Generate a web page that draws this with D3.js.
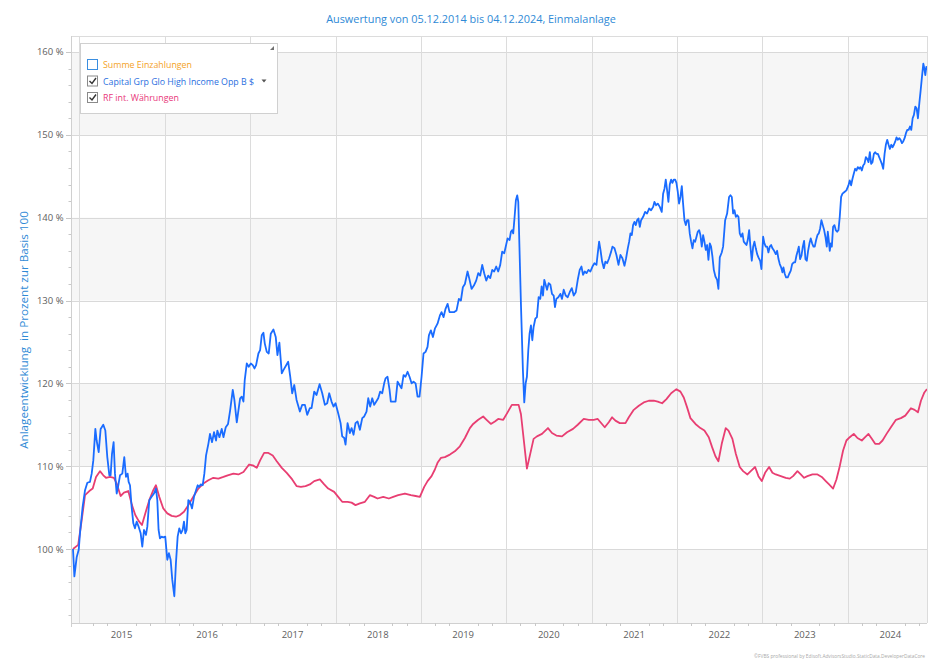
<!DOCTYPE html>
<html><head><meta charset="utf-8">
<script src="https://cdn.jsdelivr.net/npm/d3@7"></script>
<style>html,body{margin:0;padding:0;background:#fff;}svg{display:block;font-family:"Open Sans","Noto Sans",sans-serif;}</style>
</head><body>
<svg id="chart" width="940" height="665"></svg>
<script>
// ---------- DATA (decimal years, percent of base 100) ----------
const titleText = "Auswertung von 05.12.2014 bis 04.12.2024, Einmalanlage";
const yAxisTitle = "Anlageentwicklung  in Prozent zur Basis 100";
const legendLabels = ["Summe Einzahlungen", "Capital Grp Glo High Income Opp B $", "RF int. Währungen"];
const yTickValues = [100, 110, 120, 130, 140, 150, 160];
const yearLabels = ["2015","2016","2017","2018","2019","2020","2021","2022","2023","2024"];
const footerText = "©FVBS professional by Edisoft.AdvisorsStudio.StaticData.DeveloperDataCore";

const blueYears = [
2014.926,2014.942,2014.969,2014.993,2015.008,2015.039,2015.067,2015.094,2015.125,2015.145,2015.164,2015.188,2015.203,2015.227,2015.250,2015.281,2015.305,2015.328,2015.352,2015.367,2015.383,2015.402,2015.418,2015.438,2015.457,2015.477,2015.504,2015.527,2015.547,2015.566,2015.578,2015.594,2015.613,2015.633,2015.652,2015.672,2015.695,2015.719,2015.738,2015.758,2015.781,2015.797,2015.820,2015.847,2015.875,2015.898,2015.914,2015.929,2015.945,2015.965,2015.984,
2016.007,2016.031,2016.050,2016.070,2016.089,2016.113,2016.132,2016.152,2016.171,2016.191,2016.210,2016.226,2016.242,2016.257,2016.277,2016.296,2016.320,2016.343,2016.367,2016.386,2016.402,2016.421,2016.445,2016.464,2016.484,2016.511,2016.530,2016.554,2016.577,2016.601,2016.616,2016.640,2016.667,2016.687,2016.714,2016.741,2016.765,2016.796,2016.815,2016.843,2016.862,2016.882,2016.901,2016.921,2016.936,2016.960,2016.983,
2017.007,2017.030,2017.050,2017.069,2017.096,2017.116,2017.135,2017.155,2017.171,2017.194,2017.217,2017.241,2017.272,2017.299,2017.319,2017.342,2017.370,2017.389,2017.445,2017.469,2017.492,2017.516,2017.543,2017.582,2017.609,2017.641,2017.668,2017.699,2017.719,2017.750,2017.777,2017.813,2017.844,2017.875,2017.902,2017.926,2017.953,2017.977,
2018.000,2018.031,2018.059,2018.078,2018.102,2018.117,2018.141,2018.168,2018.188,2018.211,2018.234,2018.258,2018.285,2018.313,2018.336,2018.363,2018.383,2018.406,2018.430,2018.453,2018.477,2018.500,2018.523,2018.547,2018.570,2018.586,2018.609,2018.633,2018.648,2018.676,2018.703,2018.727,2018.750,2018.773,2018.797,2018.820,2018.844,2018.867,2018.891,2018.914,2018.938,2018.961,2018.984,
2019.008,2019.031,2019.055,2019.078,2019.094,2019.117,2019.141,2019.164,2019.195,2019.223,2019.242,2019.266,2019.289,2019.313,2019.336,2019.359,2019.391,2019.418,2019.445,2019.469,2019.492,2019.516,2019.547,2019.566,2019.594,2019.621,2019.648,2019.672,2019.695,2019.719,2019.742,2019.766,2019.789,2019.813,2019.836,2019.859,2019.883,2019.906,2019.930,2019.953,2019.977,
2020.016,2020.039,2020.055,2020.070,2020.082,2020.098,2020.113,2020.129,2020.141,2020.172,2020.195,2020.211,2020.227,2020.242,2020.258,2020.273,2020.289,2020.305,2020.320,2020.340,2020.359,2020.379,2020.398,2020.414,2020.430,2020.445,2020.461,2020.477,2020.496,2020.516,2020.535,2020.555,2020.570,2020.586,2020.609,2020.633,2020.652,2020.672,2020.695,2020.719,2020.742,2020.766,2020.789,2020.813,2020.836,2020.859,2020.879,2020.898,2020.918,2020.938,2020.961,2020.984,
2021.008,2021.031,2021.055,2021.070,2021.086,2021.102,2021.121,2021.141,2021.160,2021.180,2021.203,2021.227,2021.242,2021.266,2021.289,2021.313,2021.336,2021.359,2021.383,2021.402,2021.422,2021.438,2021.453,2021.469,2021.484,2021.500,2021.516,2021.531,2021.547,2021.563,2021.578,2021.602,2021.625,2021.648,2021.672,2021.695,2021.719,2021.734,2021.754,2021.773,2021.797,2021.820,2021.836,2021.852,2021.867,2021.883,2021.898,2021.914,2021.930,2021.945,2021.961,2021.977,2021.992,
2022.008,2022.023,2022.039,2022.055,2022.070,2022.086,2022.102,2022.117,2022.133,2022.148,2022.164,2022.180,2022.195,2022.211,2022.227,2022.242,2022.258,2022.273,2022.289,2022.305,2022.320,2022.336,2022.352,2022.367,2022.383,2022.398,2022.414,2022.430,2022.449,2022.469,2022.484,2022.500,2022.523,2022.539,2022.563,2022.586,2022.609,2022.625,2022.641,2022.656,2022.672,2022.688,2022.703,2022.719,2022.734,2022.750,2022.766,2022.781,2022.797,2022.813,2022.828,2022.844,2022.859,2022.875,2022.891,2022.906,2022.922,2022.938,2022.953,2022.973,2022.988,
2023.008,2023.023,2023.039,2023.055,2023.070,2023.086,2023.102,2023.117,2023.137,2023.156,2023.172,2023.188,2023.203,2023.219,2023.234,2023.246,2023.262,2023.277,2023.297,2023.313,2023.332,2023.348,2023.367,2023.383,2023.398,2023.414,2023.426,2023.441,2023.457,2023.473,2023.488,2023.504,2023.520,2023.535,2023.551,2023.566,2023.582,2023.598,2023.613,2023.629,2023.645,2023.660,2023.676,2023.691,2023.707,2023.723,2023.738,2023.754,2023.766,2023.777,2023.789,2023.801,2023.813,2023.828,2023.844,2023.859,2023.875,2023.891,2023.906,2023.922,2023.938,2023.961,2023.984,
2024.008,2024.023,2024.039,2024.055,2024.070,2024.086,2024.102,2024.117,2024.133,2024.148,2024.164,2024.180,2024.195,2024.211,2024.227,2024.242,2024.258,2024.273,2024.289,2024.305,2024.320,2024.336,2024.352,2024.367,2024.383,2024.398,2024.414,2024.430,2024.445,2024.461,2024.477,2024.492,2024.508,2024.523,2024.539,2024.555,2024.570,2024.586,2024.602,2024.617,2024.633,2024.648,2024.664,2024.680,2024.695,2024.711,2024.727,2024.742,2024.758,2024.773,2024.789,2024.805,2024.820,2024.836,2024.852,2024.867,2024.883,2024.895,2024.906,2024.918,2024.926
];
const blueValues = [
100.0,96.7,99.0,99.9,101.9,105.1,107.1,108.0,108.1,109.1,110.7,114.5,113.1,111.7,114.5,115.0,114.3,111.1,108.9,108.9,111.5,112.9,109.1,106.7,107.7,108.9,109.1,111.1,108.7,109.1,108.1,107.7,105.1,103.1,102.5,103.3,102.7,101.9,100.3,102.3,101.7,102.7,105.9,106.3,106.7,107.3,105.9,102.3,101.3,101.5,101.4,
101.5,98.7,99.5,98.7,96.3,94.3,98.3,101.5,102.5,101.9,102.3,103.3,101.9,102.3,105.9,105.7,104.9,106.3,107.1,107.7,107.5,107.8,107.7,109.1,111.3,112.7,113.9,112.9,114.1,113.1,114.3,113.5,114.5,113.5,114.7,115.1,116.7,119.2,118.0,115.3,116.7,118.2,118.4,117.8,120.4,122.4,122.0,
122.4,122.2,121.8,122.2,123.6,124.0,125.8,126.1,124.8,123.8,123.6,126.0,126.5,125.6,123.4,124.9,121.2,121.6,122.6,120.8,118.8,119.8,118.0,116.6,117.4,117.4,116.2,117.0,117.0,119.0,118.6,119.9,118.8,117.4,117.6,118.8,117.8,117.2,
117.6,116.4,115.2,113.6,113.4,112.6,115.2,114.0,114.6,113.8,115.2,115.4,114.4,115.8,116.0,116.6,118.2,117.2,118.2,117.4,117.8,118.2,119.0,118.8,120.0,120.6,120.8,119.2,117.8,117.8,117.8,120.2,119.8,119.4,121.0,120.8,121.4,120.8,120.0,120.2,120.0,118.4,118.4,
120.8,123.6,123.8,124.4,125.8,126.4,125.6,126.6,127.2,128.2,128.6,128.0,129.0,129.6,128.6,128.6,128.6,128.8,130.2,130.0,131.6,132.0,133.5,132.7,131.4,131.8,132.4,133.3,133.0,134.3,133.3,132.4,133.0,132.7,133.7,133.5,134.1,133.5,134.3,135.9,135.7,
137.5,137.3,138.3,138.5,138.1,140.1,142.1,142.7,141.9,129.6,121.6,117.7,120.0,120.8,124.0,126.0,127.0,125.2,126.8,127.8,128.0,130.4,130.2,131.7,130.6,132.5,131.9,131.3,132.1,131.9,130.8,130.6,129.2,130.2,130.4,130.8,130.2,131.3,130.6,130.4,131.0,131.5,130.6,131.0,132.5,133.7,134.1,133.1,133.5,133.3,133.7,133.5,
134.1,134.5,134.3,135.7,137.1,136.1,134.7,133.9,134.7,134.5,135.1,135.9,136.5,136.3,135.5,134.3,135.5,135.1,134.2,135.1,136.3,137.1,138.1,137.9,139.1,139.5,139.1,139.7,139.9,138.9,139.7,140.1,140.7,140.5,141.1,140.9,141.3,141.9,141.5,141.7,141.3,140.7,142.9,143.5,144.6,143.3,141.9,144.0,144.6,144.2,144.6,144.6,144.2,
143.1,141.7,142.5,143.8,141.7,139.7,139.1,139.7,139.7,138.1,137.1,136.3,137.3,137.1,137.7,138.3,138.5,137.9,136.5,137.9,137.1,136.1,136.7,134.9,136.9,136.5,135.3,133.7,132.9,132.5,131.4,135.2,135.8,136.5,139.7,140.5,142.5,142.7,142.5,140.5,140.9,140.1,140.3,140.1,138.1,137.7,138.1,137.1,136.9,136.7,137.3,138.5,136.5,134.8,136.5,137.1,136.3,135.6,135.2,134.8,133.8,
137.7,136.9,136.5,136.5,135.8,136.5,136.7,136.3,136.0,135.6,136.0,135.0,134.4,134.0,133.4,134.0,133.2,132.8,132.8,133.2,133.6,134.4,134.6,134.6,135.4,136.0,136.5,135.0,135.4,136.5,137.2,135.0,134.8,136.0,136.9,137.5,136.9,136.5,136.5,137.3,137.9,138.1,138.7,139.7,139.1,138.5,137.7,136.5,138.3,137.3,136.0,136.9,136.5,138.9,139.1,138.5,138.3,138.5,140.1,142.5,142.9,143.1,143.3,
143.9,144.5,143.9,144.7,145.3,145.9,145.7,146.1,145.9,146.1,145.7,146.3,146.5,147.3,147.1,146.7,147.9,146.5,146.7,147.7,147.9,147.7,147.7,147.3,146.9,146.5,145.9,147.7,148.8,149.4,148.8,148.3,148.8,148.5,148.8,149.2,149.7,149.4,149.6,149.4,149.0,149.2,149.6,150.2,150.6,150.6,151.0,150.6,152.0,152.4,153.4,153.2,152.0,153.8,155.4,157.0,158.6,158.0,157.2,158.2,157.8
];

const pinkYears = [
2014.926,2014.987,2015.028,2015.067,2015.117,2015.157,2015.196,2015.242,2015.281,2015.313,2015.359,2015.406,2015.438,2015.484,2015.523,2015.574,2015.617,2015.656,2015.695,2015.734,2015.773,2015.820,2015.867,2015.898,2015.937,2015.984,
2016.031,2016.082,2016.132,2016.179,2016.226,2016.277,2016.335,2016.394,2016.452,2016.511,2016.569,2016.628,2016.687,2016.737,2016.804,2016.862,2016.921,2016.987,
2017.030,2017.077,2017.116,2017.163,2017.213,2017.264,2017.311,2017.370,2017.428,2017.492,2017.543,2017.594,2017.648,2017.699,2017.750,2017.816,2017.867,2017.914,2017.984,
2018.031,2018.078,2018.141,2018.188,2018.234,2018.285,2018.344,2018.402,2018.453,2018.492,2018.559,2018.625,2018.676,2018.734,2018.813,2018.883,2018.938,2018.988,
2019.039,2019.078,2019.125,2019.164,2019.195,2019.234,2019.281,2019.340,2019.398,2019.457,2019.516,2019.574,2019.613,2019.672,2019.730,2019.770,2019.820,2019.867,2019.906,2019.965,
2020.016,2020.066,2020.145,2020.172,2020.242,2020.320,2020.359,2020.418,2020.488,2020.535,2020.586,2020.652,2020.711,2020.781,2020.836,2020.906,2020.965,
2021.023,2021.070,2021.102,2021.152,2021.199,2021.238,2021.277,2021.328,2021.395,2021.434,2021.492,2021.551,2021.609,2021.668,2021.727,2021.773,2021.824,2021.875,2021.930,2021.992,
2022.039,2022.078,2022.117,2022.156,2022.215,2022.273,2022.320,2022.371,2022.410,2022.449,2022.484,2022.523,2022.570,2022.602,2022.648,2022.688,2022.734,2022.773,2022.824,2022.863,2022.914,2022.953,2022.992,
2023.031,2023.078,2023.117,2023.156,2023.215,2023.273,2023.320,2023.359,2023.410,2023.449,2023.488,2023.527,2023.586,2023.645,2023.695,2023.742,2023.781,2023.828,2023.867,2023.906,2023.945,2023.984,
2024.023,2024.070,2024.113,2024.164,2024.203,2024.242,2024.281,2024.320,2024.367,2024.406,2024.453,2024.504,2024.563,2024.621,2024.672,2024.738,2024.781,2024.820,2024.855,2024.895,2024.926
];
const pinkValues = [
100.0,100.5,103.5,106.5,107.0,107.3,108.7,109.4,108.9,108.6,108.7,108.6,107.9,106.4,106.8,107.0,105.3,104.1,103.4,102.9,104.3,105.9,107.1,107.7,106.3,104.9,
104.3,104.0,103.9,104.1,104.5,105.3,106.3,107.3,107.9,108.3,108.6,108.5,108.7,108.9,109.1,109.0,109.3,110.2,
110.1,109.8,110.7,111.6,111.6,111.3,110.6,109.8,109.2,108.4,107.6,107.5,107.6,107.8,108.2,108.4,107.8,107.3,106.9,
106.3,105.7,105.7,105.6,105.3,105.5,105.7,106.5,106.3,106.1,106.3,106.1,106.3,106.5,106.7,106.5,106.4,106.3,
107.5,108.2,108.8,109.6,110.4,111.0,111.1,111.4,111.8,112.4,113.4,114.6,115.1,115.6,116.0,115.6,115.1,115.4,115.7,115.6,
116.5,117.4,117.4,116.3,109.7,113.3,113.6,113.9,114.6,114.0,113.7,113.6,114.1,114.5,115.0,115.7,115.6,
115.6,115.7,115.3,114.7,115.3,115.9,115.5,115.2,115.2,115.9,116.8,117.3,117.7,117.9,117.9,117.8,117.6,118.1,118.8,119.3,
119.0,118.3,117.1,115.8,115.1,114.6,114.3,113.5,112.3,111.2,110.6,112.7,114.6,114.3,113.3,111.5,109.9,109.4,109.0,109.4,109.9,108.8,108.2,
109.2,109.9,109.2,109.0,108.8,108.6,108.5,108.8,109.4,109.0,108.6,108.8,109.0,109.0,108.7,108.2,107.8,107.3,108.4,110.0,111.9,113.1,
113.5,113.9,113.4,113.1,113.5,113.9,113.3,112.7,112.7,113.1,113.9,114.7,115.6,115.8,116.1,117.0,116.8,116.5,117.9,118.9,119.3
];

// ---------- helpers ----------
function yearToDate(y) {
  const yr = Math.floor(y);
  const a = Date.UTC(yr, 0, 1), b = Date.UTC(yr + 1, 0, 1);
  return new Date(a + (y - yr) * (b - a));
}
const blueData = blueYears.map((y, i) => ({d: yearToDate(y), v: blueValues[i]}));
const pinkData = pinkYears.map((y, i) => ({d: yearToDate(y), v: pinkValues[i]}));

// ---------- layout ----------
const svg = d3.select("#chart");
const plot = {left: 71, right: 927, top: 36, bottom: 623};
const x = d3.scaleUtc()
  .domain([new Date(Date.UTC(2014, 11, 5)), new Date(Date.UTC(2024, 11, 4))])
  .range([73, 926.8]);
const y = d3.scaleLinear().domain([91.07, 161.93]).range([plot.bottom, plot.top]);

const colBlue = "#1a6cff", colPink = "#e83e72", colTitle = "#2f8ad6";

// bands
const bandStarts = [90, 110, 130, 150];
svg.append("g").selectAll("rect").data(bandStarts).join("rect")
  .attr("x", plot.left).attr("width", plot.right - plot.left)
  .attr("y", d => Math.max(plot.top, y(d + 10)))
  .attr("height", d => Math.min(plot.bottom, y(d)) - Math.max(plot.top, y(d + 10)))
  .attr("fill", "#f6f6f6");

// horizontal grid
svg.append("g").selectAll("line").data(yTickValues).join("line")
  .attr("x1", plot.left).attr("x2", plot.right)
  .attr("y1", d => Math.round(y(d)) + 0.5).attr("y2", d => Math.round(y(d)) + 0.5)
  .attr("stroke", "#d9d9d9").attr("stroke-width", 1);

// vertical year grid
const yearStarts = d3.utcYears(new Date(Date.UTC(2015,0,1)), new Date(Date.UTC(2024,0,2)));
svg.append("g").selectAll("line").data(yearStarts).join("line")
  .attr("x1", d => Math.round(x(d)) + 0.5).attr("x2", d => Math.round(x(d)) + 0.5)
  .attr("y1", plot.top).attr("y2", plot.bottom)
  .attr("stroke", "#dcdcdc");

// frame
svg.append("line").attr("x1", plot.left).attr("x2", plot.right).attr("y1", plot.top + 0.5).attr("y2", plot.top + 0.5).attr("stroke", "#dcdcdc");
svg.append("line").attr("x1", plot.left).attr("x2", plot.right).attr("y1", plot.bottom + 0.5).attr("y2", plot.bottom + 0.5).attr("stroke", "#d0d0d0");
svg.append("line").attr("x1", plot.left + 0.5).attr("x2", plot.left + 0.5).attr("y1", plot.top).attr("y2", plot.bottom + 4).attr("stroke", "#d0d0d0");
svg.append("line").attr("x1", plot.right + 0.5).attr("x2", plot.right + 0.5).attr("y1", plot.top).attr("y2", plot.bottom).attr("stroke", "#dcdcdc");

// y axis ticks
const yMinor = d3.range(92, 162, 2);
svg.append("g").selectAll("line").data(yMinor).join("line")
  .attr("x1", d => d % 10 === 0 ? plot.left - 5 : plot.left - 2.5).attr("x2", plot.left)
  .attr("y1", d => Math.round(y(d)) + 0.5).attr("y2", d => Math.round(y(d)) + 0.5)
  .attr("stroke", "#c8c8c8");
svg.append("g").selectAll("text").data(yTickValues).join("text")
  .attr("x", 63.5).attr("y", d => y(d) + 3.5)
  .attr("text-anchor", "end").attr("font-size", 9.5).attr("fill", "#606060")
  .text(d => d + " %");

// x axis minor ticks (every two months)
const minorTicks = d3.utcMonths(new Date(Date.UTC(2015,0,1)), new Date(Date.UTC(2024,11,1)))
  .filter(d => [2,4,8,10].includes(d.getUTCMonth()));
svg.append("g").selectAll("line").data(minorTicks).join("line")
  .attr("x1", d => Math.round(x(d)) + 0.5).attr("x2", d => Math.round(x(d)) + 0.5)
  .attr("y1", plot.bottom).attr("y2", plot.bottom + 3)
  .attr("stroke", "#c8c8c8");
svg.append("g").selectAll("text").data(yearLabels).join("text")
  .attr("x", d => x(new Date(Date.UTC(+d, 6, 1))))
  .attr("y", 637.5).attr("text-anchor", "middle").attr("font-size", 9.5).attr("fill", "#606060")
  .text(d => d);

// lines
const line = d3.line().x(d => x(d.d)).y(d => y(d.v));
const clip = svg.append("clipPath").attr("id", "clp").append("rect")
  .attr("x", plot.left).attr("y", plot.top).attr("width", plot.right - plot.left).attr("height", plot.bottom - plot.top);
svg.append("path").datum(pinkData).attr("d", line).attr("fill", "none")
  .attr("stroke", colPink).attr("stroke-width", 1.8).attr("stroke-linejoin", "round").attr("clip-path", "url(#clp)");
svg.append("path").datum(blueData).attr("d", line).attr("fill", "none")
  .attr("stroke", colBlue).attr("stroke-width", 1.8).attr("stroke-linejoin", "round").attr("clip-path", "url(#clp)");

// fit helper
function fitWidth(sel, target) {
  const n = sel.node();
  const w = n.getComputedTextLength();
  const fs = parseFloat(sel.attr("font-size"));
  if (w > 0) sel.attr("font-size", (fs * target / w).toFixed(2));
}

// title
const t = svg.append("text").attr("x", 471).attr("y", 23).attr("text-anchor", "middle")
  .attr("font-size", 12).attr("fill", colTitle).text(titleText);
fitWidth(t, 290);

// y title
const yt = svg.append("text").attr("transform", "translate(28,330) rotate(-90)")
  .attr("text-anchor", "middle").attr("font-size", 12).attr("fill", colTitle)
  .attr("xml:space", "preserve").style("white-space", "pre").text(yAxisTitle);
fitWidth(yt, 238);

// legend
const lg = svg.append("g");
lg.append("rect").attr("x", 80.5).attr("y", 43.5).attr("width", 197).attr("height", 70)
  .attr("fill", "#fff").attr("stroke", "#d0d0d0");
lg.append("path").attr("d", "M274,46 L274,50 L270,50 Z").attr("fill", "#707070");
const legendColors = ["#f4a21f", "#2b6fe0", "#e8377a"];
const legendY = [64, 80.5, 97];
legendLabels.forEach((lab, i) => {
  const cy = legendY[i];
  lg.append("rect").attr("x", 87.5).attr("y", cy - 4.5).attr("width", 10).attr("height", 10)
    .attr("fill", "#fff").attr("stroke", i === 0 ? "#3a8ee0" : "#8a8a8a");
  if (i > 0) {
    lg.append("path").attr("d", `M89.5,${cy + 0.5} L92,${cy + 3} L96,${cy - 2.5}`)
      .attr("fill", "none").attr("stroke", "#333").attr("stroke-width", 1.4);
  }
  const tx = lg.append("text").attr("x", 103).attr("y", cy + 4)
    .attr("font-size", 10).attr("fill", legendColors[i]).text(lab);
  if (i === 1) fitWidth(tx, 151);
  if (i === 0) fitWidth(tx, 89);
  if (i === 2) fitWidth(tx, 76);
});
lg.append("path").attr("d", "M261.5,79.5 L266.5,79.5 L264,82.5 Z").attr("fill", "#555");

// footer
const ft = svg.append("text").attr("x", 925).attr("y", 658).attr("text-anchor", "end")
  .attr("font-size", 5.5).attr("fill", "#a8a8a8").text(footerText);
fitWidth(ft, 171);
</script>
</body></html>
